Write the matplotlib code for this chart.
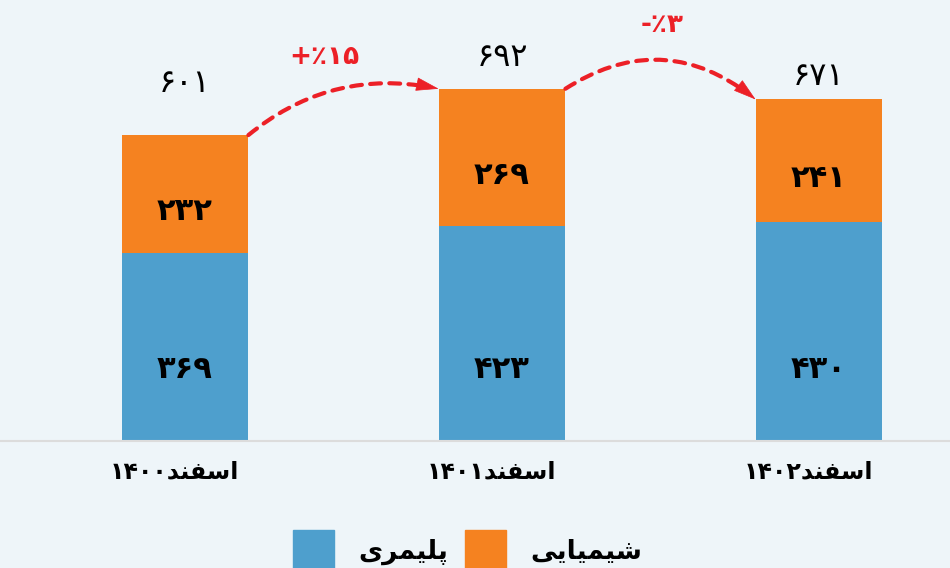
import matplotlib
matplotlib.use("Agg")
import numpy as np
import matplotlib.pyplot as plt
import matplotlib.transforms as mtransforms
from matplotlib.patches import FancyArrowPatch, Rectangle

# ---- data ----
years = ["۱۴۰۰", "۱۴۰۱", "۱۴۰۲"]
polymer = [369, 423, 430]
chemical = [232, 269, 241]
totals = [601, 692, 671]
change_labels = ["+٪۱۵", "-٪۳"]

# visually pre-shaped Persian words (presentation forms, left-to-right order)
word_esfand = "\uFEAA\uFEE8\uFED4\uFEB3\uFE8D"               # اسفند
word_polymer = "\uFEEF\uFEAE\uFEE4\uFEF4\uFEE0\uFB58"         # پلیمری
word_chemical = "\uFEF0\uFEF3\uFE8E\uFEF4\uFEE4\uFEF4\uFEB7"  # شیمیایی

fa_digits = str.maketrans("0123456789", "۰۱۲۳۴۵۶۷۸۹")
def fa(n):
    return str(n).translate(fa_digits)

BLUE = "#4E9FCD"
ORANGE = "#F58220"
RED = "#EC2027"
BG = "#EEF5F9"

plt.rcParams["font.family"] = ["DejaVu Sans"]

W, H = 950, 568
fig = plt.figure(figsize=(W / 100, H / 100), dpi=100, facecolor=BG)
ax = fig.add_axes([0, (H - 441) / H, 1, 441 / H])
ax.set_facecolor(BG)

x = list(range(len(years)))
width = 0.40
ax.bar(x, polymer, width=width, color=BLUE, zorder=2)
ax.bar(x, chemical, width=width, bottom=polymer, color=ORANGE, zorder=2)

ax.set_xlim(-185 / 317, -185 / 317 + W / 317)
ax.set_ylim(0, 441 / 0.509)
for s in ["top", "right", "left"]:
    ax.spines[s].set_visible(False)
ax.spines["bottom"].set_color("#DCDCDC")
ax.spines["bottom"].set_linewidth(1.5)
ax.set_yticks([])
ax.set_xticks(x)
ax.set_xticklabels([y + word_esfand for y in years], fontsize=17, fontweight="bold")
ax.tick_params(axis="x", length=0, pad=13)
shift = mtransforms.ScaledTranslation(-11 / 100, 0, fig.dpi_scale_trans)
for lab in ax.get_xticklabels():
    lab.set_transform(lab.get_transform() + shift)

# values inside bars
for i in x:
    ax.text(i, 140, fa(polymer[i]), ha="center", va="center", fontsize=22,
            fontweight="bold", color="black", zorder=3)
    ax.text(i, polymer[i] + chemical[i] / 2 - 35, fa(chemical[i]), ha="center",
            va="center", fontsize=22, fontweight="bold", color="black", zorder=3)

# totals above bars
total_offsets = [102, 62, 45]
for i in x:
    ax.text(i, totals[i] + total_offsets[i], fa(totals[i]), ha="center",
            va="center", fontsize=23, color="black")

# change arrows: dashed arc + solid head
rads = [-0.24, -0.36]
for i in range(len(years) - 1):
    start = (i + width / 2, totals[i])
    end = (i + 1 - width / 2, totals[i + 1])
    rad = rads[i]
    ax.add_patch(FancyArrowPatch(start, end, connectionstyle=f"arc3,rad={rad}",
                                 arrowstyle="-", linestyle=(0, (2.6, 2.0)),
                                 linewidth=3, color=RED, shrinkA=0, shrinkB=14,
                                 zorder=4))
    # tangent at the end of the arc (display coords) for the solid head
    s = ax.transData.transform(start)
    e = ax.transData.transform(end)
    mid = (s + e) / 2
    dx, dy = e - s
    ctrl = mid + rad * np.array([dy, -dx])
    d = (e - ctrl) / np.linalg.norm(e - ctrl)
    back = ax.transData.inverted().transform(e - d * 18)
    ax.add_patch(FancyArrowPatch(tuple(back), end,
                                 arrowstyle="-|>,head_length=15,head_width=4.5",
                                 linewidth=0.5, color=RED, shrinkA=0, shrinkB=0,
                                 zorder=5))

change_pos = [(0.44, 755), (1.505, 817)]
for (cx, cy), lab in zip(change_pos, change_labels):
    ax.text(cx, cy, lab, ha="center", va="center", fontsize=19,
            fontweight="bold", color=RED)

# legend (manual, bottom centre)
legend_items = [(BLUE, word_polymer, 293, 358), (ORANGE, word_chemical, 465, 530)]
for color, label, sq_x, tx in legend_items:
    fig.add_artist(Rectangle((sq_x / W, (H - 572) / H), 41 / W, 42 / H,
                             transform=fig.transFigure, color=color))
    fig.text(tx / W, (H - 552) / H, label, ha="left", va="center",
             fontsize=19, fontweight="bold", color="black")

fig.savefig("out.png", dpi=100, facecolor=BG)
